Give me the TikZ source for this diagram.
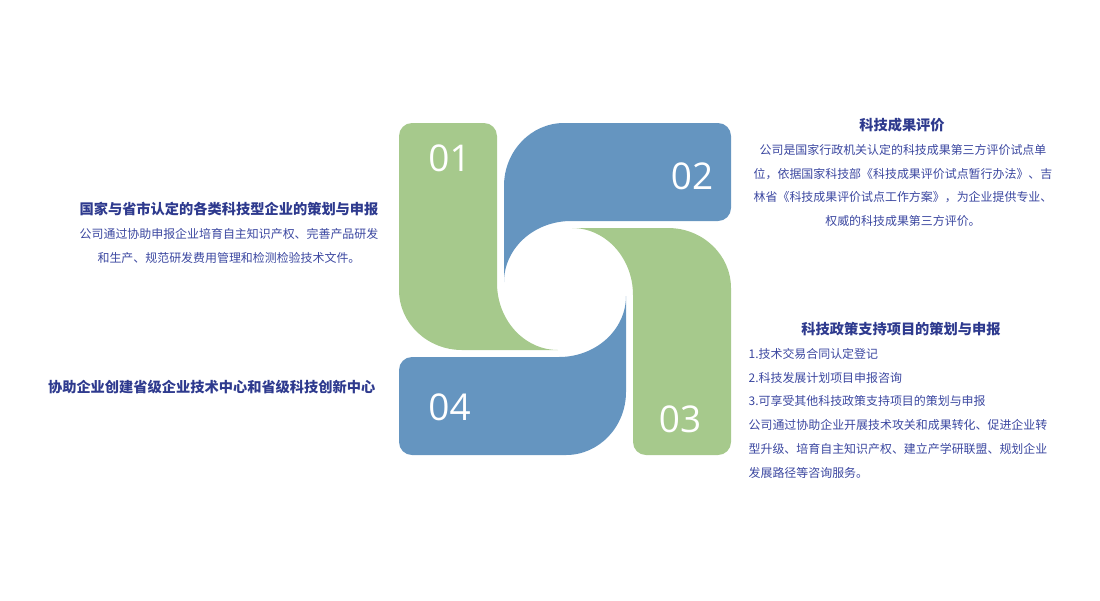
\documentclass[tikz,border=0pt]{standalone}
\usepackage{fontspec}
\newfontfamily\cjk{Noto Sans CJK SC}
\newfontfamily\numfont{Open Sans}
\definecolor{leafgreen}{HTML}{A6C98C}
\definecolor{leafblue}{HTML}{6595C0}
\definecolor{headblue}{HTML}{2E3A8E}
\definecolor{textblue}{HTML}{3B47A0}
\tikzset{
  head/.style={inner sep=0pt, text=headblue, font=\cjk\bfseries\fontsize{8.1}{10}\selectfont},
  body/.style={inner sep=0pt, text=textblue, font=\cjk\fontsize{6.8}{13.6}\selectfont},
  num/.style={inner sep=0pt, text=white, font=\numfont\fontsize{21}{21}\selectfont},
}
\begin{document}
\begin{tikzpicture}[x=0.02cm, y=-0.02cm]
    \useasboundingbox (0,0) rectangle (1100,600);

    % pinwheel
    \foreach \ang/\col in {0/leafgreen, -90/leafblue, -180/leafgreen, -270/leafblue}
        \fill[\col, shift={(565,289)}, rotate=\ang]
            (-166,-153) .. controls (-166,-160.2) and (-160.2,-166) .. (-153,-166)
            -- (-81,-166) .. controls (-73.8,-166) and (-68,-160.2) .. (-68,-153)
            -- (-68,-6) .. controls (-68,31) and (-40.7,61) .. (-7,61)
            -- (-103,61) .. controls (-137.8,61) and (-166,34) .. (-166,1)
            -- cycle;

    \node[num] (n01) at (449.5,158.5) {01};
    \node[num] (n02) at (692,176.7) {02};
    \node[num] (n03) at (680,419) {03};
    \node[num] (n04) at (449.5,407.5) {04};

    % left
    \node[head] (t1) at (229,209.3) {国家与省市认定的各类科技型企业的策划与申报};
    \node[body, align=center] (b1) at (229,245.8)
        {公司通过协助申报企业培育自主知识产权、完善产品研发\\和生产、规范研发费用管理和检测检验技术文件。};
    \node[head] (t4) at (211.7,386.7) {协助企业创建省级企业技术中心和省级科技创新中心};

    % right
    \node[head] (t2) at (902,125) {科技成果评价};
    \node[body, align=center] (b2) at (903,185.5)
        {公司是国家行政机关认定的科技成果第三方评价试点单\\位，依据国家科技部《科技成果评价试点暂行办法》、吉\\林省《科技成果评价试点工作方案》，为企业提供专业、\\权威的科技成果第三方评价。};
    \node[head] (t3) at (901,329.3) {科技政策支持项目的策划与申报};
    \node[body, align=left, anchor=west] (b3) at (748.3,413.3)
        {1.技术交易合同认定登记\\2.科技发展计划项目申报咨询\\3.可享受其他科技政策支持项目的策划与申报\\公司通过协助企业开展技术攻关和成果转化、促进企业转\\型升级、培育自主知识产权、建立产学研联盟、规划企业\\发展路径等咨询服务。};
\end{tikzpicture}
\end{document}
